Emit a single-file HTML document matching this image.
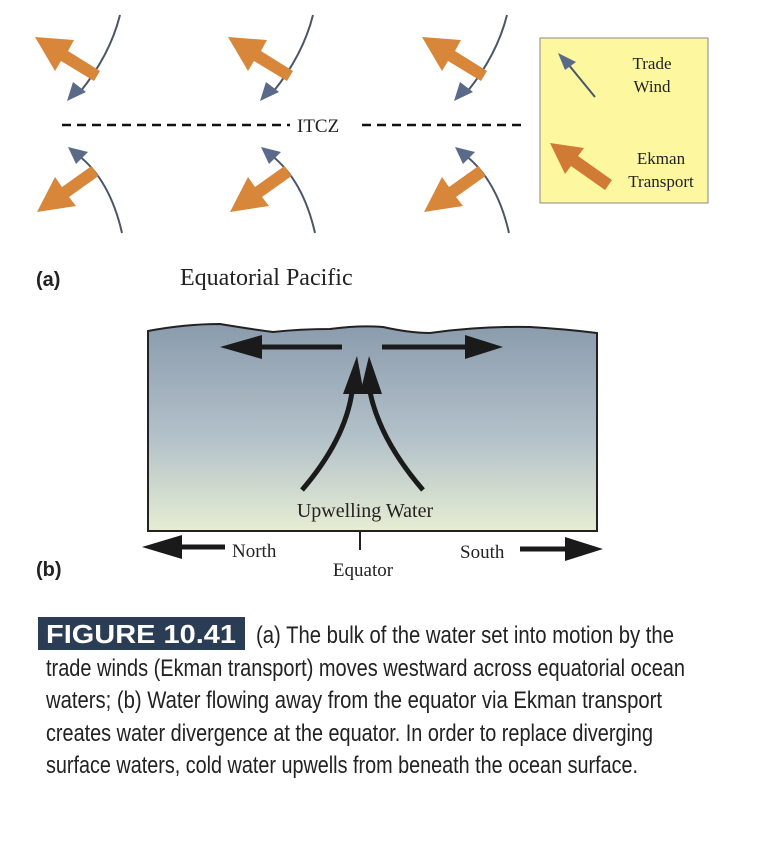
<!DOCTYPE html>
<html><head><meta charset="utf-8"><style>
html,body{margin:0;padding:0;background:#fff;}
svg{display:block}
.serif{font-family:"Liberation Serif",serif;fill:#222}
.cap{font-family:"Liberation Sans Narrow","Liberation Sans",sans-serif;font-size:24px;fill:#222}
</style></head><body>
<svg width="772" height="848" viewBox="0 0 772 848" xmlns="http://www.w3.org/2000/svg">
<defs>
<linearGradient id="sea" x1="0" y1="0" x2="0" y2="1">
<stop offset="0" stop-color="#8a9bad"/><stop offset="0.55" stop-color="#b3c1c9"/><stop offset="1" stop-color="#e6edd3"/>
</linearGradient>
<g id="top">
<path d="M120,15 Q110,55 80,92" stroke="#4a5668" stroke-width="2" fill="none"/>
<polygon points="67,101 73,82 86,92" fill="#5a6a88"/>
<polygon points="35,37 74,40 68,51 100,71 94,81 61,61 55,71" fill="#d8873a"/>
</g>
<g id="bot">
<path d="M122,233 Q110,180 78,155" stroke="#4a5668" stroke-width="2" fill="none"/>
<polygon points="68,147 88,152 76,164" fill="#5a6a88"/>
<polygon points="37,212 55,177 62,187 91.5,166 98.5,176 69,197 76,206" fill="#d8873a"/>
</g>
</defs>
<use href="#top"/><use href="#top" x="193"/><use href="#top" x="387"/>
<use href="#bot"/><use href="#bot" x="193"/><use href="#bot" x="387"/>
<line x1="62" y1="125" x2="290" y2="125" stroke="#111" stroke-width="2.5" stroke-dasharray="9,6"/>
<text x="297" y="132" class="serif" font-size="19">ITCZ</text>
<line x1="362" y1="125" x2="522" y2="125" stroke="#111" stroke-width="2.5" stroke-dasharray="9,6"/>
<rect x="540" y="38" width="168" height="165" fill="#fdf7a0" stroke="#888" stroke-width="1"/>
<line x1="595" y1="97" x2="568" y2="64" stroke="#4a5668" stroke-width="2"/>
<polygon points="558,53 576,62 565,70" fill="#5a6a88"/>
<polygon points="550,143 584,148 578,156 612,180 605,190 571,166 565,174" fill="#d07a35"/>
<text x="652" y="69" class="serif" font-size="17" text-anchor="middle">Trade</text>
<text x="652" y="92" class="serif" font-size="17" text-anchor="middle">Wind</text>
<text x="661" y="164" class="serif" font-size="17" text-anchor="middle">Ekman</text>
<text x="661" y="187" class="serif" font-size="17" text-anchor="middle">Transport</text>
<text x="36" y="286" font-family="Liberation Sans,sans-serif" font-weight="bold" font-size="20" fill="#222">(a)</text>
<text x="180" y="285" class="serif" font-size="24">Equatorial Pacific</text>
<path d="M148,331 Q185,324 220,324 Q250,329 273,332 Q300,329 330,329 Q360,325 383,327 Q410,333 430,333 Q480,326 530,327 Q565,329 597,333 L597,531 L148,531 Z" fill="url(#sea)" stroke="#222" stroke-width="2"/>
<line x1="342" y1="347" x2="255" y2="347" stroke="#1a1a1a" stroke-width="5"/>
<polygon points="220,347 262,335 262,359" fill="#1a1a1a"/>
<line x1="382" y1="347" x2="470" y2="347" stroke="#1a1a1a" stroke-width="5"/>
<polygon points="503,347 465,335 465,359" fill="#1a1a1a"/>
<path d="M302,490 Q345,440 352,392" stroke="#1a1a1a" stroke-width="5" fill="none"/>
<polygon points="357,356 343,394 364,394" fill="#1a1a1a"/>
<path d="M423,490 Q380,440 370,392" stroke="#1a1a1a" stroke-width="5" fill="none"/>
<polygon points="369,356 360,394 382,394" fill="#1a1a1a"/>
<text x="365" y="517" class="serif" font-size="20" text-anchor="middle">Upwelling Water</text>
<line x1="360" y1="531" x2="360" y2="550" stroke="#222" stroke-width="2"/>
<line x1="175" y1="547" x2="225" y2="547" stroke="#1a1a1a" stroke-width="5"/>
<polygon points="142,547 182,535 182,559" fill="#1a1a1a"/>
<text x="232" y="557" class="serif" font-size="19">North</text>
<text x="460" y="558" class="serif" font-size="19">South</text>
<line x1="520" y1="549" x2="570" y2="549" stroke="#1a1a1a" stroke-width="5"/>
<polygon points="603,549 565,537 565,561" fill="#1a1a1a"/>
<text x="363" y="576" class="serif" font-size="19" text-anchor="middle">Equator</text>
<text x="36" y="576" font-family="Liberation Sans,sans-serif" font-weight="bold" font-size="20" fill="#222">(b)</text>
<rect x="38" y="617" width="207" height="33" fill="#2b3d55"/>
<text x="46" y="643" font-family="Liberation Sans Narrow,Liberation Sans,sans-serif" font-weight="bold" font-size="26" fill="#fff" textLength="190" lengthAdjust="spacingAndGlyphs">FIGURE 10.41</text>
<text x="256" y="643" class="cap" textLength="418" lengthAdjust="spacingAndGlyphs">(a) The bulk of the water set into motion by the</text>
<text x="46" y="676" class="cap" textLength="639" lengthAdjust="spacingAndGlyphs">trade winds (Ekman transport) moves westward across equatorial ocean</text>
<text x="46" y="708" class="cap" textLength="616" lengthAdjust="spacingAndGlyphs">waters; (b) Water flowing away from the equator via Ekman transport</text>
<text x="46" y="741" class="cap" textLength="607" lengthAdjust="spacingAndGlyphs">creates water divergence at the equator. In order to replace diverging</text>
<text x="46" y="773" class="cap" textLength="592" lengthAdjust="spacingAndGlyphs">surface waters, cold water upwells from beneath the ocean surface.</text>
</svg>
</body></html>
